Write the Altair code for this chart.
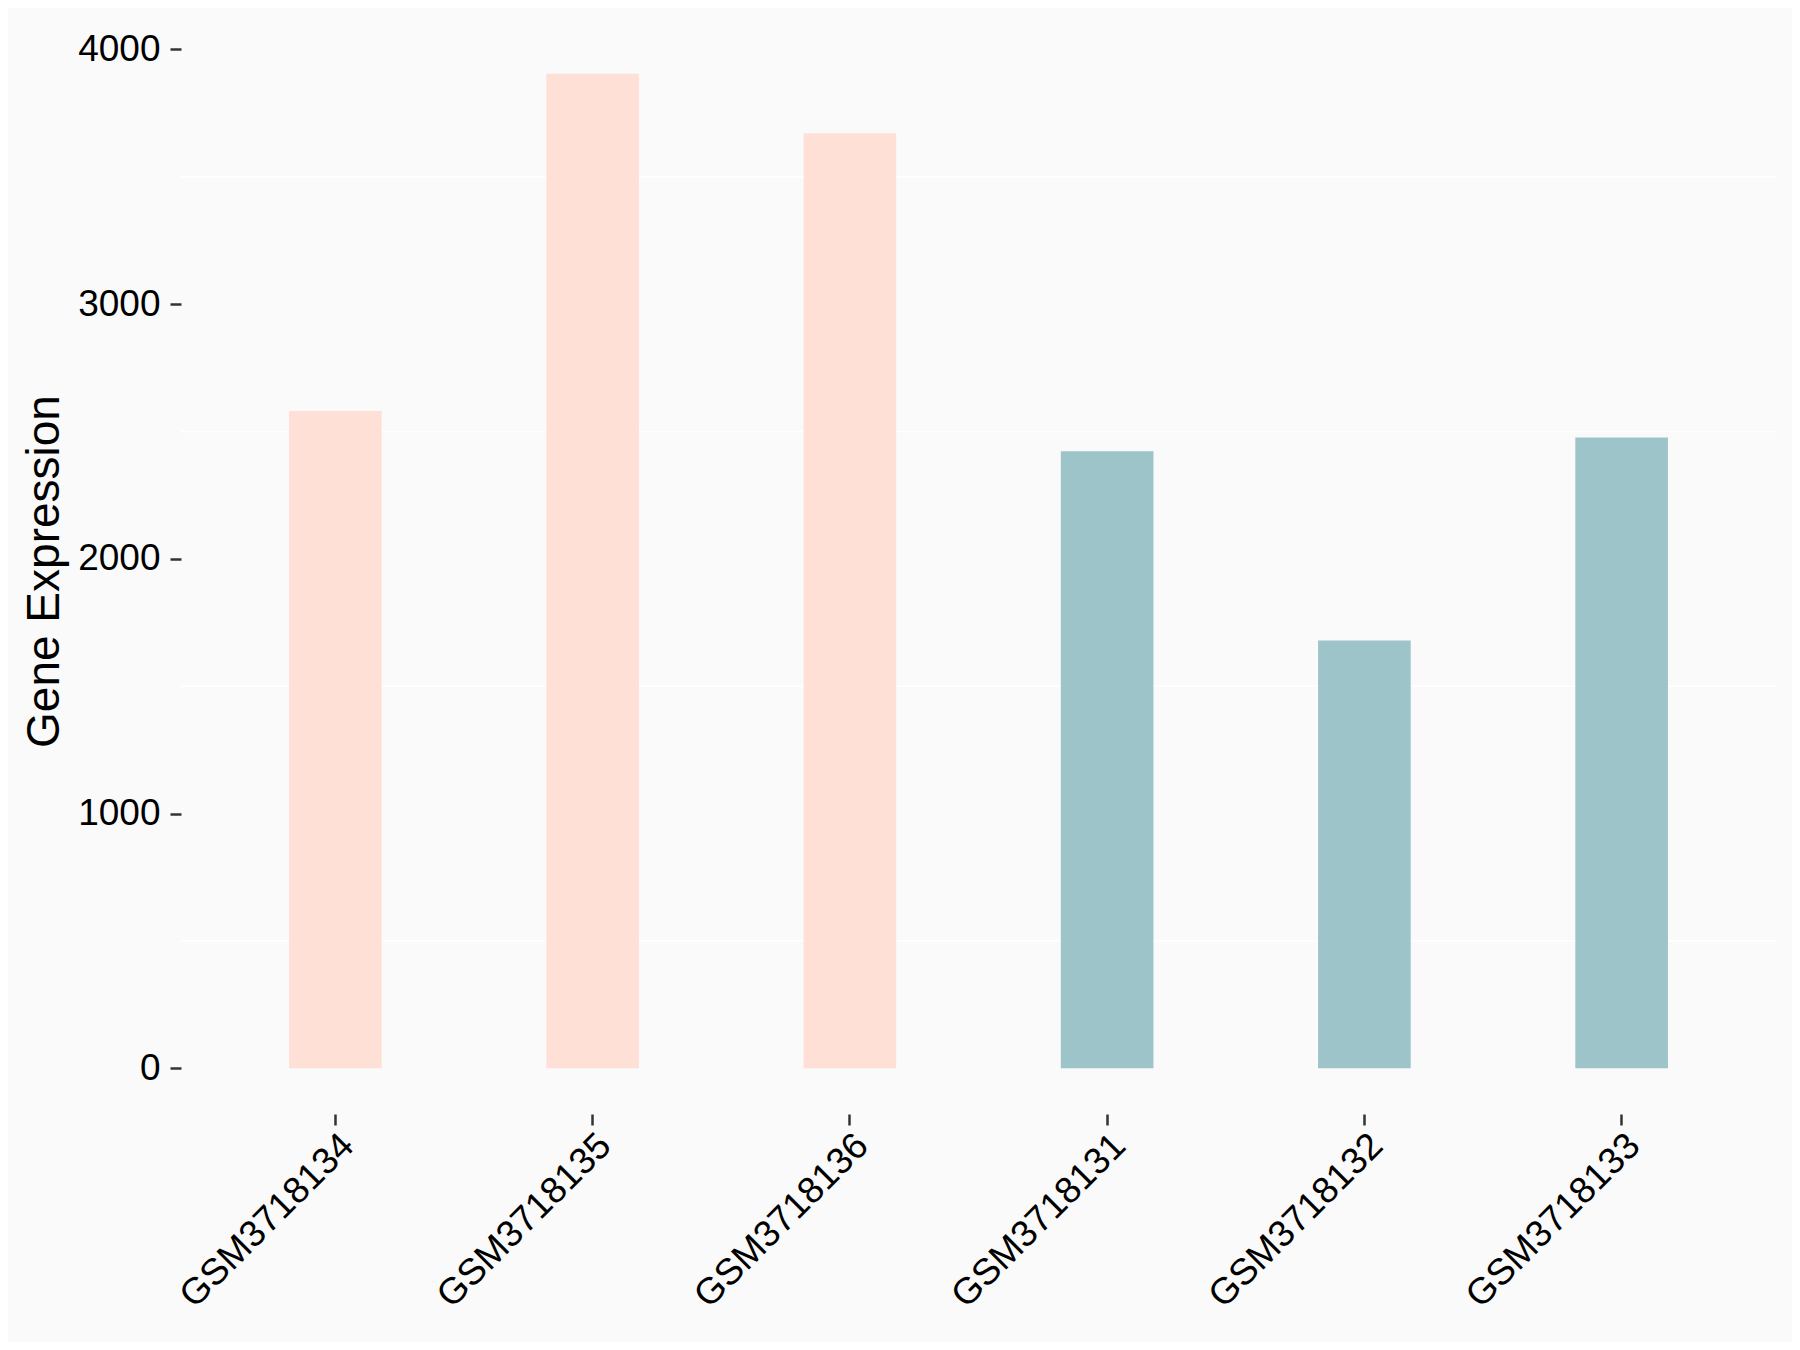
import altair as alt
import pandas as pd

samples = ["GSM3718134", "GSM3718135", "GSM3718136", "GSM3718131", "GSM3718132", "GSM3718133"]
values = [2581, 3905, 3671, 2423, 1680, 2477]
groups = ["A", "A", "A", "B", "B", "B"]
group_colors = ["#FFE0D7", "#9DC4C8"]
minor_breaks = [500, 1500, 2500, 3500]
y_ticks = [0, 1000, 2000, 3000, 4000]

df = pd.DataFrame({"sample": samples, "value": values, "group": groups})
grid_df = pd.DataFrame({"v": minor_breaks})

FONT = "Liberation Sans"
y_scale = alt.Scale(domain=[-195, 4100], nice=False, zero=False)

bars = alt.Chart(df).mark_bar().encode(
    x=alt.X("sample:N", sort=samples,
            scale=alt.Scale(paddingInner=0.64, paddingOuter=0.42),
            axis=alt.Axis(title=None, labelAngle=-45, labelAlign="right", labelBaseline="top",
                          labelFont=FONT, labelFontSize=37, labelColor="#000000", labelLimit=0,
                          tickSize=11, tickWidth=2.5, tickColor="#333333",
                          labelPadding=2, domain=False, grid=False, offset=-4)),
    y=alt.Y("value:Q", scale=y_scale,
            axis=alt.Axis(values=y_ticks, format="d", title="Gene Expression", titleFont=FONT,
                          titleFontSize=46, titleFontWeight="normal", titleColor="#000000",
                          titleAngle=-90, titleAlign="center", titleBaseline="alphabetic",
                          titleX=-123, titleY=547,
                          labelFont=FONT, labelFontSize=37, labelColor="#000000",
                          labelPadding=10, tickSize=11, tickWidth=2.5, tickColor="#333333",
                          domain=False, grid=False)),
    y2=alt.datum(0),
    color=alt.Color("group:N", scale=alt.Scale(domain=["A", "B"], range=group_colors), legend=None),
)

grid = alt.Chart(grid_df).mark_rule(color="#FFFFFF", strokeWidth=1.5).encode(
    y=alt.Y("v:Q", scale=y_scale)
)

chart = alt.layer(grid, bars).properties(
    width=1595, height=1094,
    autosize=alt.AutoSizeParams(type="none"),
    padding={"left": 173, "top": 16, "right": 16, "bottom": 224},
    background="#FAFAFA",
).configure_view(stroke=None, fill="#FAFAFA")

chart.save("out.html", embed_options={"renderer": "svg", "actions": False})
